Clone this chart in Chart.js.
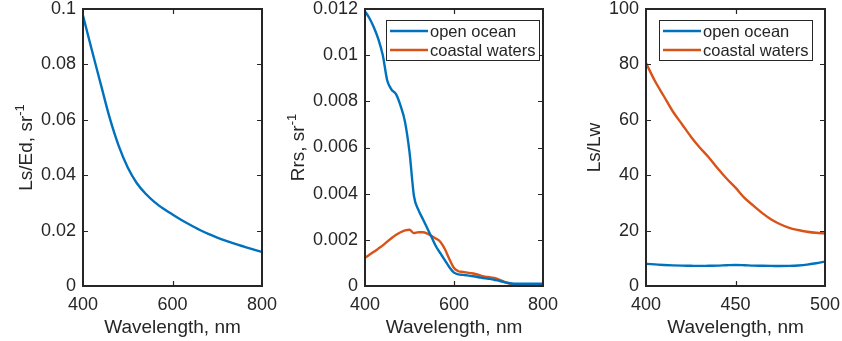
<!DOCTYPE html>
<html>
<head>
<meta charset="utf-8">
<script src="https://cdn.jsdelivr.net/npm/chart.js@4.4.1/dist/chart.umd.min.js"></script>
<style>
  html, body { margin: 0; padding: 0; background: #ffffff; }
  body { width: 842px; height: 341px; position: relative; overflow: hidden; }
  .panel { position: absolute; top: 0; height: 341px; }
  canvas { display: block; }
</style>
</head>
<body>
<div class="panel" style="left:0px;width:280px"><canvas id="skyRatio" width="280" height="341"></canvas></div>
<div class="panel" style="left:280px;width:280px"><canvas id="reflectance" width="280" height="341"></canvas></div>
<div class="panel" style="left:560px;width:282px"><canvas id="glintRatio" width="282" height="341"></canvas></div>
<script>
// ---- data ----
const skyWavelength = [400, 420, 440, 460, 480, 500, 520, 540, 560, 580, 600, 620, 640, 660, 680, 700, 720, 740, 760, 780, 800];
const skyLsEd = [0.0976, 0.0850, 0.0727, 0.0605, 0.0505, 0.0428, 0.0372, 0.0333, 0.0303, 0.0279, 0.0258,
                 0.0238, 0.0220, 0.0203, 0.0188, 0.0175, 0.0163, 0.0152, 0.0142, 0.0132, 0.0123];

const rrsWavelength = [400, 410, 420, 430, 440, 450, 460, 470, 480, 490, 500, 510, 520, 530, 540, 550, 560, 570, 580, 590,
                       600, 610, 620, 630, 640, 650, 660, 670, 680, 690, 700, 710, 720, 730, 740, 750, 760, 770, 780, 790, 800];
const rrsOpenOcean = [0.0119, 0.0116, 0.0112, 0.0107, 0.0100, 0.0089, 0.0085, 0.0083, 0.0078, 0.0071, 0.0058, 0.0039,
                      0.0033, 0.0029, 0.0025, 0.0021, 0.0017, 0.0014, 0.0011, 0.0008, 0.00058, 0.00050, 0.00048,
                      0.00046, 0.00043, 0.00040, 0.00036, 0.00033, 0.00031, 0.00027, 0.00023, 0.00018, 0.00014,
                      0.00011, 0.00010, 0.00010, 0.00010, 0.00010, 0.00010, 0.00010, 0.00010];
const rrsCoastal = [0.00122, 0.00135, 0.00148, 0.00162, 0.00176, 0.00192, 0.00208, 0.00222, 0.00233, 0.00241, 0.00244,
                    0.00229, 0.00233, 0.00233, 0.00227, 0.00216, 0.00205, 0.00190, 0.00158, 0.00115, 0.00078, 0.00064,
                    0.00061, 0.00058, 0.00055, 0.00051, 0.00045, 0.00040, 0.00038, 0.00035, 0.00029, 0.00021, 0.00013,
                    0.00008, 0.00005, 0.00005, 0.00005, 0.00005, 0.00005, 0.00005, 0.00005];

const ratioWavelength = [400, 405, 410, 415, 420, 425, 430, 435, 440, 445, 450, 455, 460, 465, 470, 475, 480, 485, 490, 495, 500];
const ratioOpenOcean = [8.0, 7.8, 7.6, 7.45, 7.35, 7.3, 7.25, 7.3, 7.35, 7.5, 7.6, 7.5, 7.35, 7.3, 7.25, 7.2, 7.25, 7.4, 7.7, 8.2, 8.8];
const ratioCoastal = [80.5, 74.0, 68.5, 63.0, 58.5, 54.0, 50.0, 46.5, 42.5, 38.8, 35.5, 31.8, 29.0, 26.3, 24.0, 22.3, 21.0, 20.2, 19.6, 19.2, 19.0];

// tick labels
const wideXTicks = [400, 600, 800];
const narrowXTicks = [400, 450, 500];
const lsEdTicks = [0, 0.02, 0.04, 0.06, 0.08, 0.1];
const rrsTicks = [0, 0.002, 0.004, 0.006, 0.008, 0.01, 0.012];
const ratioTicks = [0, 20, 40, 60, 80, 100];

const seriesNames = ['open ocean', 'coastal waters'];
const BLUE = '#0072BD';
const ORANGE = '#D95319';
const INK = '#262626';
const FAMILY = "'Liberation Sans', Arial, Helvetica, sans-serif";
const TICK_PX = 18, TITLE_PX = 19, LEGEND_PX = 16.5;

Chart.defaults.font.family = FAMILY;
Chart.defaults.color = INK;

const toPoints = (xs, ys) => xs.map((x, i) => ({ x: x, y: ys[i] }));
const fmt = v => String(+(+v).toFixed(6));

// Axes box, inward tick marks, axis titles and an in-plot legend
const framePlugin = {
  id: 'frame',
  afterDatasetsDraw(chart, args, opts) {
    const ctx = chart.ctx;
    const a = chart.chartArea;
    const xs = chart.scales.x, ys = chart.scales.y;
    ctx.save();
    ctx.strokeStyle = INK;

    // inward ticks on all four sides
    ctx.lineWidth = 1.2;
    const tl = 5;
    ctx.beginPath();
    xs.ticks.forEach(t => {
      const px = Math.round(xs.getPixelForValue(t.value)) + 0.5;
      if (px <= a.left + 1 || px >= a.right - 1) return;
      ctx.moveTo(px, a.bottom); ctx.lineTo(px, a.bottom - tl);
      ctx.moveTo(px, a.top); ctx.lineTo(px, a.top + tl);
    });
    ys.ticks.forEach(t => {
      const py = Math.round(ys.getPixelForValue(t.value)) + 0.5;
      if (py <= a.top + 1 || py >= a.bottom - 1) return;
      ctx.moveTo(a.left, py); ctx.lineTo(a.left + tl, py);
      ctx.moveTo(a.right, py); ctx.lineTo(a.right - tl, py);
    });
    ctx.stroke();

    // box
    ctx.lineWidth = 2;
    ctx.strokeRect(a.left, a.top, a.right - a.left, a.bottom - a.top);

    // x title
    ctx.fillStyle = INK;
    ctx.font = TITLE_PX + 'px ' + FAMILY;
    ctx.textAlign = 'center';
    ctx.textBaseline = 'alphabetic';
    ctx.fillText(opts.xTitle, (a.left + a.right) / 2, 333);

    // y title (rotated, with optional superscript)
    ctx.font = TICK_PX + 'px ' + FAMILY;
    let maxW = 0;
    ys.ticks.forEach(t => { maxW = Math.max(maxW, ctx.measureText(fmt(t.value)).width); });
    const baseX = a.left - 7 - maxW - 9;
    ctx.font = TITLE_PX + 'px ' + FAMILY;
    const mainW = ctx.measureText(opts.yTitle).width;
    ctx.font = '13px ' + FAMILY;
    const supW = opts.ySup ? ctx.measureText(opts.ySup).width : 0;
    const total = mainW + supW;
    ctx.translate(baseX, (a.top + a.bottom) / 2);
    ctx.rotate(-Math.PI / 2);
    ctx.textAlign = 'left';
    ctx.font = TITLE_PX + 'px ' + FAMILY;
    ctx.fillText(opts.yTitle, -total / 2, 0);
    if (opts.ySup) {
      ctx.font = '13px ' + FAMILY;
      ctx.fillText(opts.ySup, -total / 2 + mainW, -8);
    }
    ctx.setTransform(1, 0, 0, 1, 0, 0);

    // legend
    if (opts.legend) {
      ctx.font = LEGEND_PX + 'px ' + FAMILY;
      let textW = 0;
      chart.data.datasets.forEach(d => { textW = Math.max(textW, ctx.measureText(d.label).width); });
      const sample = 38, padL = 4, gap = 2, padR = 5;
      const w = Math.round(padL + sample + gap + textW + padR);
      const h = 41;
      const right = a.right - opts.legend.right;
      const left = right - w;
      const top = a.top + opts.legend.top;
      ctx.fillStyle = '#ffffff';
      ctx.fillRect(left, top, w, h);
      ctx.lineWidth = 1;
      ctx.strokeStyle = INK;
      ctx.strokeRect(left + 0.5, top + 0.5, w - 1, h - 1);
      chart.data.datasets.forEach((d, i) => {
        const cy = top + 11 + i * 19;
        ctx.strokeStyle = d.borderColor;
        ctx.lineWidth = 2.4;
        ctx.beginPath();
        ctx.moveTo(left + padL, cy);
        ctx.lineTo(left + padL + sample, cy);
        ctx.stroke();
        ctx.fillStyle = INK;
        ctx.textAlign = 'left';
        ctx.textBaseline = 'middle';
        ctx.fillText(d.label, left + padL + sample + gap, cy + 1);
      });
    }
    ctx.restore();
  }
};

const noScalePadding = s => { s.paddingLeft = 0; s.paddingRight = 0; s.paddingTop = 0; s.paddingBottom = 0; };

function makePanel(canvasId, geom, datasets, xRange, xTicks, yRange, yTicks, frame) {
  const canvas = document.getElementById(canvasId);
  const W = canvas.width, H = canvas.height;
  return new Chart(canvas, {
    type: 'line',
    data: { datasets: datasets },
    plugins: [framePlugin],
    options: {
      responsive: false,
      animation: false,
      events: [],
      layout: {
        autoPadding: false,
        padding: { top: geom.top, right: W - geom.right, bottom: 0, left: 0 }
      },
      elements: {
        point: { radius: 0 },
        line: { borderWidth: 2.4, cubicInterpolationMode: 'monotone' }
      },
      plugins: {
        legend: { display: false },
        tooltip: { enabled: false },
        frame: frame
      },
      scales: {
        x: {
          type: 'linear',
          min: xRange[0], max: xRange[1],
          afterBuildTicks: s => { s.ticks = xTicks.map(v => ({ value: v })); },
          afterFit: s => { s.height = H - geom.bottom; noScalePadding(s); },
          grid: { display: false, drawTicks: false },
          border: { display: false },
          ticks: {
            autoSkip: false, maxRotation: 0, padding: 8, color: INK,
            font: { size: TICK_PX, family: FAMILY },
            callback: v => fmt(v)
          }
        },
        y: {
          type: 'linear',
          min: yRange[0], max: yRange[1],
          afterBuildTicks: s => { s.ticks = yTicks.map(v => ({ value: v })); },
          afterFit: s => { s.width = geom.left; noScalePadding(s); },
          grid: { display: false, drawTicks: false },
          border: { display: false },
          ticks: {
            autoSkip: false, padding: 7, color: INK,
            font: { size: TICK_PX, family: FAMILY },
            callback: v => fmt(v)
          }
        }
      }
    }
  });
}

// Left: sky radiance to downwelling irradiance ratio
makePanel('skyRatio', { left: 83, right: 262, top: 9, bottom: 286 },
  [{ label: 'Ls/Ed', data: toPoints(skyWavelength, skyLsEd), borderColor: BLUE }],
  [400, 800], wideXTicks, [0, 0.1], lsEdTicks,
  { xTitle: 'Wavelength, nm', yTitle: 'Ls/Ed, sr', ySup: '-1', legend: null });

// Middle: remote sensing reflectance
makePanel('reflectance', { left: 85, right: 263, top: 9, bottom: 286 },
  [
    { label: seriesNames[0], data: toPoints(rrsWavelength, rrsOpenOcean), borderColor: BLUE },
    { label: seriesNames[1], data: toPoints(rrsWavelength, rrsCoastal), borderColor: ORANGE }
  ],
  [400, 800], wideXTicks, [0, 0.012], rrsTicks,
  { xTitle: 'Wavelength, nm', yTitle: 'Rrs, sr', ySup: '-1', legend: { right: 3, top: 11 } });

// Right: sky glint to water-leaving radiance ratio
makePanel('glintRatio', { left: 86, right: 265, top: 9, bottom: 286 },
  [
    { label: seriesNames[0], data: toPoints(ratioWavelength, ratioOpenOcean), borderColor: BLUE },
    { label: seriesNames[1], data: toPoints(ratioWavelength, ratioCoastal), borderColor: ORANGE }
  ],
  [400, 500], narrowXTicks, [0, 100], ratioTicks,
  { xTitle: 'Wavelength, nm', yTitle: 'Ls/Lw', ySup: '', legend: { right: 12, top: 11 } });
</script>
</body>
</html>
